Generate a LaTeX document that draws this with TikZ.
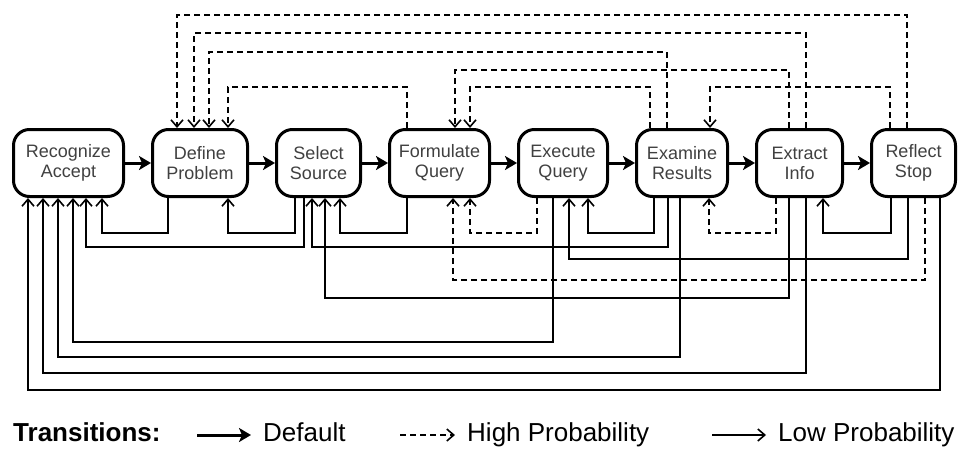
\documentclass[tikz,border=0pt]{standalone}
\usepackage{fontspec}
\setmainfont{Liberation Sans}
\usepackage{tikz}
\usetikzlibrary{positioning,arrows.meta}

\begin{document}
\begin{tikzpicture}[x=1pt, y=1pt, node distance=26pt,
    stage/.style={draw, line width=3pt, rounded corners=16pt, minimum height=67pt,
      align=center, text=black!75, font=\fontsize{18}{20}\selectfont},
    dflt/.style={line width=3pt, -{Stealth[length=12pt,width=14pt,inset=3pt]}},
    low/.style={line width=1.6pt, -{Straight Barb[length=7pt,width=12pt]}},
    high/.style={low, dash pattern=on 6pt off 4pt},
    key/.style={font=\fontsize{26}{30}\selectfont, inner xsep=12pt, inner ysep=0pt, text height=19pt, text depth=6pt}]
    \useasboundingbox (0,0) rectangle (960,-453);

    \node[stage, minimum width=110pt] (rec) at (68.5,-163) {Recognize\\Accept};
    \node[stage, minimum width=95pt, right=of rec] (def) {Define\\Problem};
    \node[stage, minimum width=84pt, right=of def] (sel) {Select\\Source};
    \node[stage, minimum width=100pt, right=of sel] (form) {Formulate\\Query};
    \node[stage, minimum width=89pt, right=of form] (exe) {Execute\\Query};
    \node[stage, minimum width=91pt, right=of exe] (exam) {Examine\\Results};
    \node[stage, minimum width=86pt, right=of exam] (extr) {Extract\\Info};
    \node[stage, minimum width=84pt, right=of extr] (refl) {Reflect\\Stop};

    \draw[dflt] (rec) -- (def);
    \draw[dflt] (def) -- (sel);
    \draw[dflt] (sel) -- (form);
    \draw[dflt] (form) -- (exe);
    \draw[dflt] (exe) -- (exam);
    \draw[dflt] (exam) -- (extr);
    \draw[dflt] (extr) -- (refl);

    % over the top
    \draw[high] ([xshift=-6.5pt]refl.north) -- ++(0,113) -| ([xshift=-23pt]def.north);
    \draw[high] ([xshift=6.5pt]extr.north) -- ++(0,95) -| ([xshift=-6pt]def.north);
    \draw[high] ([xshift=-15pt]exam.north) -- ++(0,76) -| ([xshift=9pt]def.north);
    \draw[high] ([xshift=-10.5pt]extr.north) -- ++(0,58) -| ([xshift=15.5pt]form.north);
    \draw[high] ([xshift=-32.5pt]form.north) -- ++(0,41) -| ([xshift=28pt]def.north);
    \draw[high] ([xshift=-32pt]exam.north) -- ++(0,41) -| ([xshift=30.5pt]form.north);
    \draw[high] ([xshift=-23.5pt]refl.north) -- ++(0,41) -| ([xshift=28pt]exam.north);

    % underneath
    \draw[low] ([xshift=-32pt]def.south) -- ++(0,-35) -| ([xshift=33.5pt]rec.south);
    \draw[low] ([xshift=-23.5pt]sel.south) -- ++(0,-35) -| ([xshift=28pt]def.south);
    \draw[low] ([xshift=-14.5pt]sel.south) -- ++(0,-49) -| ([xshift=17.5pt]rec.south);
    \draw[low] ([xshift=-32.5pt]form.south) -- ++(0,-35) -| ([xshift=21.5pt]sel.south);
    \draw[low] ([xshift=-14pt]exam.south) -- ++(0,-49) -| ([xshift=-6.5pt]sel.south);
    \draw[low] ([xshift=-10.5pt]extr.south) -- ++(0,-100) -| ([xshift=6.5pt]sel.south);
    \draw[low] ([xshift=-10pt]exe.south) -- ++(0,-144) -| ([xshift=4.5pt]rec.south);
    \draw[low] ([xshift=-2pt]exam.south) -- ++(0,-159) -| ([xshift=-10.5pt]rec.south);
    \draw[low] ([xshift=6.5pt]extr.south) -- ++(0,-175) -| ([xshift=-25.5pt]rec.south);
    \draw[low] ([xshift=26.5pt]refl.south) -- ++(0,-192) -| ([xshift=-40.5pt]rec.south);
    \draw[low] ([xshift=-28pt]exam.south) -- ++(0,-35) -| ([xshift=25pt]exe.south);
    \draw[low] ([xshift=-5.5pt]refl.south) -- ++(0,-61) -| ([xshift=6pt]exe.south);
    \draw[low] ([xshift=-22.5pt]refl.south) -- ++(0,-35) -| ([xshift=23.5pt]extr.south);
    \draw[high] ([xshift=-26pt]exe.south) -- ++(0,-35) -| ([xshift=30.5pt]form.south);
    \draw[high] ([xshift=11.5pt]refl.south) -- ++(0,-82) -| ([xshift=13.5pt]form.south);
    \draw[high] ([xshift=-23.5pt]extr.south) -- ++(0,-35) -| ([xshift=27pt]exam.south);

    % legend
    \node[key, inner sep=0pt, anchor=west, font=\fontsize{26}{30}\selectfont\bfseries] (ttl) at (13,-435) {Transitions:};
    \node[key, anchor=west] (kdef) at (251,-435) {Default};
    \node[key, anchor=west] (khigh) at (455,-435) {High Probability};
    \node[key, anchor=west] (klow) at (766,-435) {Low Probability};
    \coordinate (a1) at (197,-435);
    \coordinate (a2) at (400,-435);
    \coordinate (a3) at (712,-435);
    \draw[dflt] (a1) -- (kdef);
    \draw[high] (a2) -- (khigh);
    \draw[low] (a3) -- (klow);
\end{tikzpicture}
\end{document}
